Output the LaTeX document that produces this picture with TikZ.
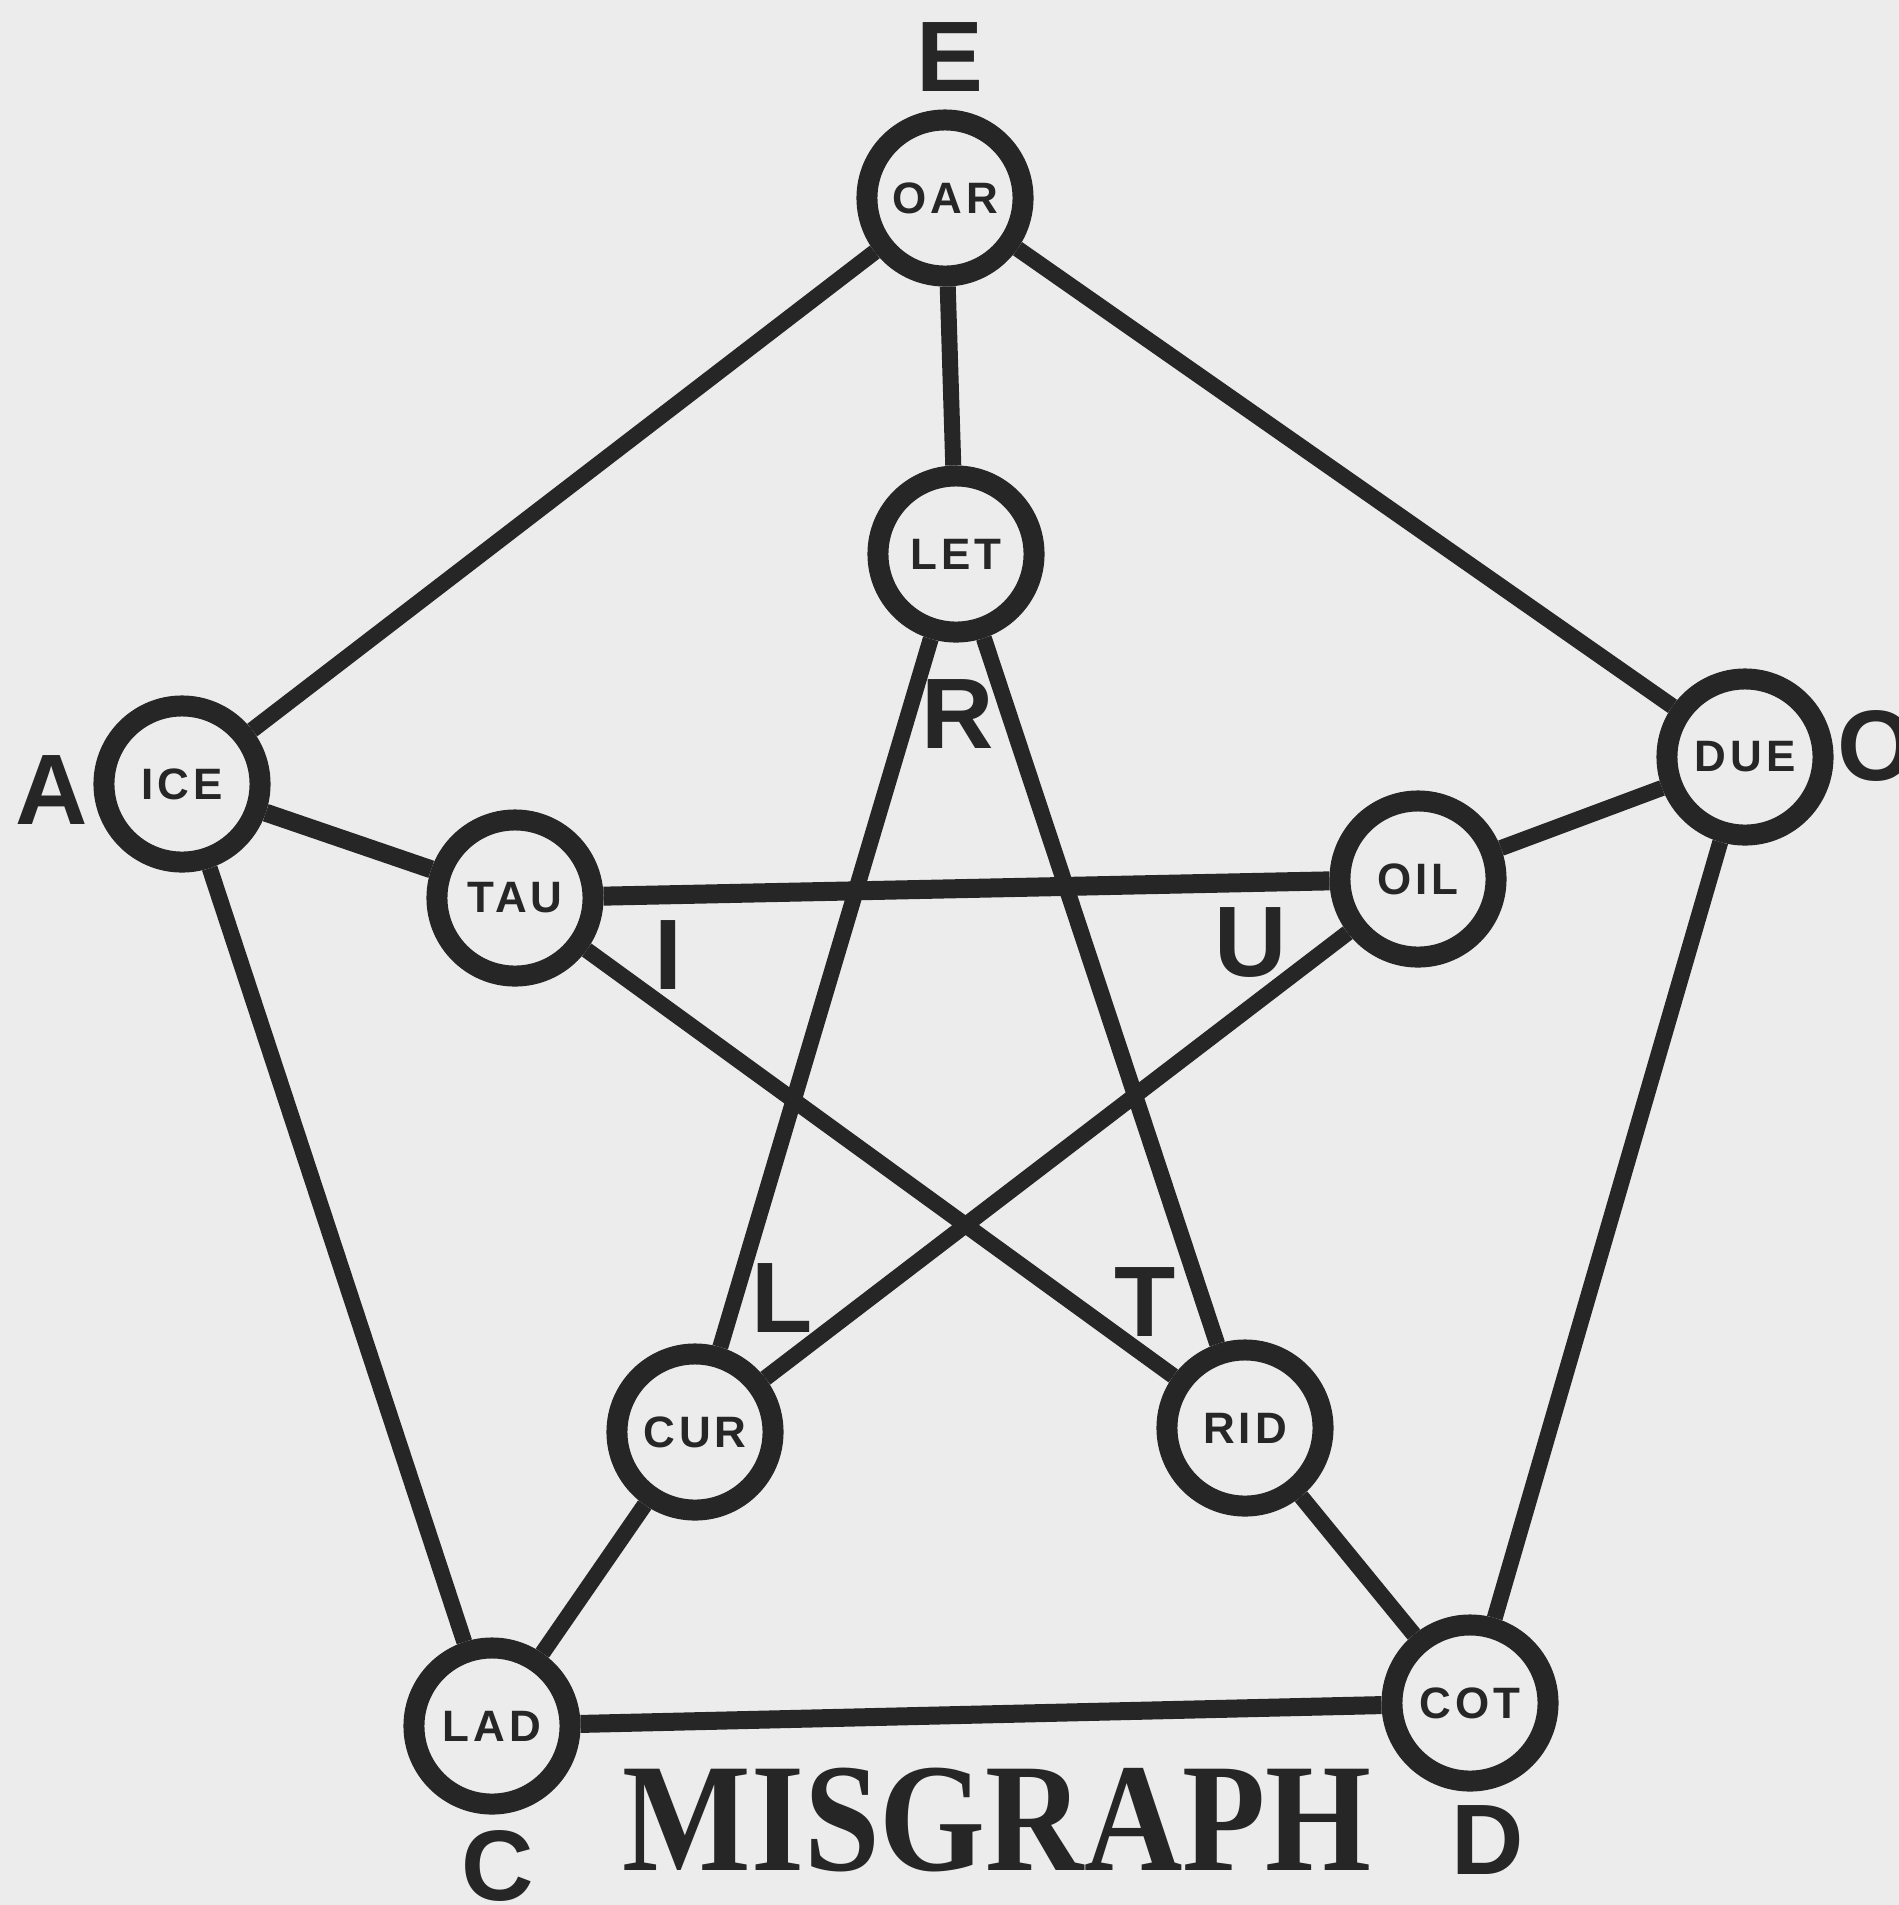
\documentclass[tikz,border=0pt]{standalone}
\usepackage{fontspec}
\usepackage{graphicx}
\setmainfont{Liberation Serif}
\newfontfamily\lblfont[LetterSpace=9]{Liberation Sans}
\newfontfamily\bigfont{Liberation Sans}
\definecolor{bgc}{HTML}{ECECEC}
\definecolor{ink}{HTML}{262626}
\tikzset{
  vert/.style={circle, draw=ink, line width=0.21cm, fill=bgc, minimum size=1.56cm, inner sep=0pt,
    text=ink, font=\lblfont\bfseries\fontsize{12.5}{13}\selectfont},
  edge/.style={draw=ink, line width=0.16cm},
  letter/.style={inner sep=0pt, text=ink, font=\bigfont\bfseries\fontsize{28.5}{30}\selectfont},
  title/.style={inner sep=0pt, text=ink, font=\bfseries\fontsize{44}{48}\selectfont}
}
\begin{document}
\begin{tikzpicture}[x=0.01cm, y=-0.01cm]
\fill[bgc] (0,0) rectangle (1899,1905);
\useasboundingbox (0,0) rectangle (1899,1905);
% vertices
\node[vert] (oar) at (945,198) {OAR};
\node[vert] (let) at (956,554) {LET};
\node[vert] (ice) at (182,784) {ICE};
\node[vert] (due) at (1745,757) {DUE};
\node[vert] (tau) at (515,898) {TAU};
\node[vert] (oil) at (1418,879) {OIL};
\node[vert] (cur) at (695,1432) {CUR};
\node[vert] (rid) at (1245,1428) {RID};
\node[vert] (lad) at (492,1726) {LAD};
\node[vert] (cot) at (1470,1703) {COT};
% edges
\draw[edge] (oar) -- (let);
\draw[edge] (oar) -- (ice);
\draw[edge] (oar) -- (due);
\draw[edge, line width=0.18cm] (ice) -- (tau);
\draw[edge] (ice) -- (lad);
\draw[edge] (due) -- (oil);
\draw[edge] (due) -- (cot);
\draw[edge, line width=0.18cm] (lad) -- (cot);
\draw[edge] (lad) -- (cur);
\draw[edge] (cot) -- (rid);
\draw[edge] (let) -- (cur);
\draw[edge] (let) -- (rid);
\draw[edge, line width=0.19cm] (tau) -- (oil);
\draw[edge] (tau) -- (rid);
\draw[edge] (oil) -- (cur);
% letters
\node[letter] (lE) at (950,57) {E};
\node[letter] (lA) at (52,790) {A};
\node[letter] (lO) at (1876,746) {O};
\node[letter] (lC) at (498,1866) {C};
\node[letter] (lD) at (1488,1840) {D};
\node[letter] (lR) at (958,714) {R};
\node[letter] (lI) at (668,955) {I};
\node[letter] (lU) at (1251,942) {U};
\node[letter] (lL) at (782,1298) {L};
\node[letter] (lT) at (1145,1302) {T};
% title
\node[title] (ttl) at (997,1820) {\scalebox{0.88}[1]{MISGRAPH}};
\end{tikzpicture}
\end{document}
